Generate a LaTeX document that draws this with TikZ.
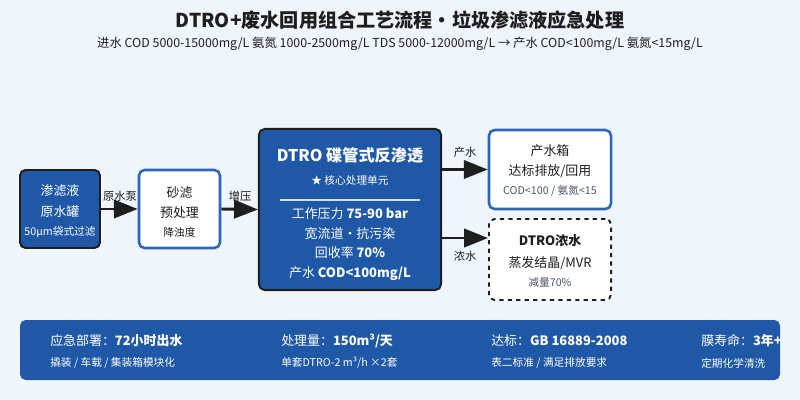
\documentclass[tikz,border=0pt]{standalone}
\usepackage{fontspec}
\setmainfont{Noto Sans CJK SC}
\usepackage{tikz}
\usetikzlibrary{arrows.meta}

\definecolor{bgblue}{HTML}{EEF5FD}
\definecolor{deepblue}{HTML}{1F58A6}
\definecolor{edgeblue}{HTML}{2A65B9}
\definecolor{inkdark}{HTML}{1E1E1E}
\definecolor{softgray}{HTML}{4A5568}

\begin{document}
\begin{tikzpicture}[
  x=0.025cm, y=-0.025cm,
  darkbox/.style={draw=inkdark, line width=1.4pt, fill=deepblue, rounded corners=4pt, inner sep=0pt},
  lightbox/.style={draw=edgeblue, line width=1.8pt, fill=white, rounded corners=4pt, inner sep=0pt},
  dashbox/.style={draw=inkdark, line width=1.4pt, dashed, fill=white, rounded corners=4pt, inner sep=0pt},
  flow/.style={draw=inkdark, line width=2.1pt, -{Triangle[length=17pt, width=13pt]}},
  wt/.style={text=white, font=\fontsize{9.2}{11}\selectfont},
  bk/.style={text=inkdark, font=\fontsize{9.2}{11}\selectfont},
  small/.style={font=\fontsize{7.6}{9}\selectfont},
  tag/.style={text=inkdark, font=\fontsize{8}{10}\selectfont},
  keyfig/.style={anchor=west, inner sep=0pt}
]
\useasboundingbox[fill=bgblue] (0,0) rectangle (800,400);

% Title
\node[text=inkdark, font=\fontsize{13.6}{16}\selectfont\bfseries] (title) at (400,20) {DTRO+废水回用组合工艺流程·垃圾渗滤液应急处理};
\node[text=inkdark, font=\fontsize{8.8}{11}\selectfont] (subtitle) at (400,44) {进水 COD 5000-15000mg/L 氨氮 1000-2500mg/L TDS 5000-12000mg/L → 产水 COD<100mg/L 氨氮<15mg/L};

% Process boxes
\node[darkbox, minimum width=2cm, minimum height=1.95cm] (tank) at (60,209) {};
\node[lightbox, minimum width=2.025cm, minimum height=1.95cm] (sand) at (179.5,209) {};
\node[darkbox, minimum width=4.55cm, minimum height=4.025cm] (dtro) at (350,209.5) {};
\node[lightbox, minimum width=3.05cm, minimum height=1.975cm] (product) at (550,169.5) {};
\node[dashbox, minimum width=3.05cm, minimum height=2.025cm] (brine) at (550,259.5) {};

% Raw water tank
\node[wt] at (60,191) {渗滤液};
\node[wt] at (60,212) {原水罐};
\node[wt, small] at (60,232) {50μm袋式过滤};

% Sand filter
\node[bk] at (179.5,193) {砂滤};
\node[bk] at (179.5,213) {预处理};
\node[bk, small] at (179.5,232) {降浊度};

% DTRO unit
\node[wt, font=\fontsize{11.5}{13}\selectfont\bfseries] at (350,155) {DTRO 碟管式反渗透};
\node[wt, small] at (350,180) {★ 核心处理单元};
\draw[draw=white!80!deepblue, line width=1.1pt] (280,200) -- (420,200);
\node[wt] at (350,214) {工作压力 \textbf{75-90 bar}};
\node[wt] at (350,234) {宽流道·抗污染};
\node[wt] at (350,253) {回收率 \textbf{70\%}};
\node[wt] at (350,274) {产水 \textbf{COD<100mg/L}};

% Product tank
\node[bk] at (550,151) {产水箱};
\node[bk] at (550,171) {达标排放/回用};
\node[text=softgray, small] at (550,191) {COD<100 / 氨氮<15};

% Concentrate
\node[bk, font=\fontsize{9.2}{11}\selectfont\bfseries] at (550,241) {DTRO浓水};
\node[bk] at (550,263) {蒸发结晶/MVR};
\node[text=softgray, small] at (550,282) {减量70\%};

% Connectors
\coordinate (brinelevel) at (0,238);
\draw[flow] (tank.east) -- (sand.west);
\draw[flow] (sand.east) -- (dtro.west);
\draw[flow] (dtro.east |- product.west) -- (product.west);
\draw[flow] (dtro.east |- brinelevel) -- (brine.west |- brinelevel);
\node[tag] at (120,196) {原水泵};
\node[tag] at (240,196) {增压};
\node[tag] at (465,152) {产水};
\node[tag] at (465,256) {浓水};

% Key figures band
\fill[deepblue, rounded corners=4pt] (20,320) rectangle (780,380);
\node[wt, keyfig] at (50,341) {应急部署：\textbf{72小时出水}};
\node[wt, small, keyfig] at (50,363) {撬装 / 车载 / 集装箱模块化};
\node[wt, keyfig] at (281,341) {处理量：\textbf{150m³/天}};
\node[wt, small, keyfig] at (281,363) {单套DTRO-2 m³/h ×2套};
\node[wt, keyfig] at (491,341) {达标：\textbf{GB 16889-2008}};
\node[wt, small, keyfig] at (491,363) {表二标准 / 满足排放要求};
\node[wt, keyfig] at (701,341) {膜寿命：\textbf{3年+}};
\node[wt, small, keyfig] at (701,363) {定期化学清洗};
\end{tikzpicture}
\end{document}
